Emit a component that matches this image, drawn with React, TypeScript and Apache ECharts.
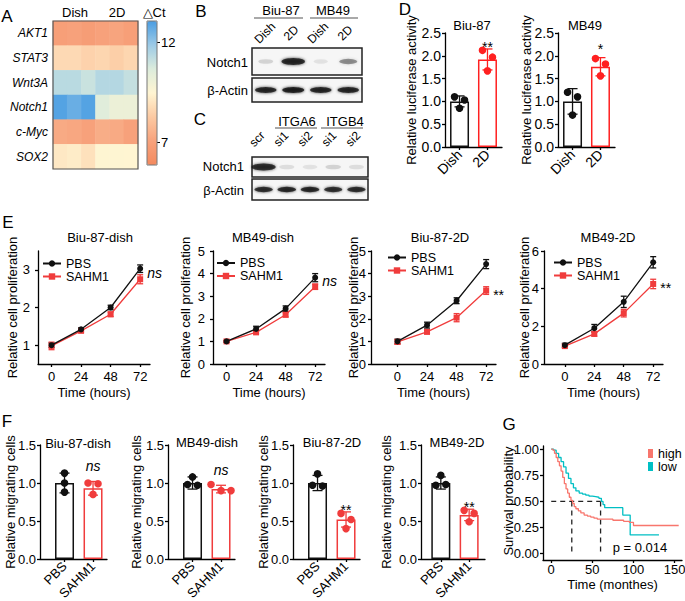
import { useEffect, useRef } from "react";
import * as echarts from "echarts";

const FONT = "'Liberation Sans', Arial, Helvetica, sans-serif";
const INK = "#111111";
const RED = "#f03c3c";
const RED_D = "#ff2020";
const KM_HIGH = "#f8766d";
const KM_LOW = "#00bfc4";

// ---------- A: heatmap (ΔCt) ----------
const heatGenes = ["AKT1", "STAT3", "Wnt3A", "Notch1", "c-Myc", "SOX2"];
const heatSamples = ["Dish 1", "Dish 2", "Dish 3", "2D 1", "2D 2", "2D 3"];
const heatAKT1 = [6.9, 7.0, 6.8, 7.0, 7.1, 6.9];
const heatSTAT3 = [8.7, 8.7, 8.5, 8.6, 8.4, 8.6];
const heatWnt3A = [11.3, 11.3, 11.0, 11.4, 11.4, 11.1];
const heatNotch1 = [12.9, 12.6, 12.9, 10.5, 10.1, 10.1];
const heatCMyc = [7.3, 7.2, 7.0, 7.4, 7.3, 7.0];
const heatSOX2 = [9.1, 9.2, 8.9, 9.5, 9.5, 9.45];
const heatRows = [heatAKT1, heatSTAT3, heatWnt3A, heatNotch1, heatCMyc, heatSOX2];
const colorbarTicks = [7, 12];
const colorbarMin = 5.85;
const colorbarMax = 13.05;
const heatColors = ["#f4895e", "#f7a27c", "#fcc9a2", "#fff5d2", "#dcecdc", "#9ccae6", "#4a9de2"];

// ---------- B / C: western blots (relative band intensity) ----------
const blotBLanes = ["Dish", "2D", "Dish", "2D"];
const blotBNotch1 = [0.16, 0.95, 0.1, 0.45];
const blotBActin = [0.95, 1.0, 0.95, 0.95];
const blotCLanes = ["scr", "si1", "si2", "si1", "si2"];
const blotCNotch1 = [0.92, 0.12, 0.1, 0.16, 0.12];
const blotCActin = [0.92, 0.95, 0.95, 0.9, 0.92];

// ---------- D: luciferase ----------
const dCats = ["Dish", "2D"];
const dBiuMean = [1.0, 1.92];
const dBiuSD = [0.12, 0.23];
const dBiuDishDots = [1.1, 1.03, 0.85];
const dBiu2DDots = [2.12, 1.97, 1.67];
const dBiuSig = ["", "**"];
const dMbMean = [1.0, 1.76];
const dMbSD = [0.28, 0.2];
const dMbDishDots = [1.2, 1.1, 0.7];
const dMb2DDots = [1.94, 1.82, 1.56];
const dMbSig = ["", "*"];

// ---------- E: proliferation ----------
const eTimes = [0, 24, 48, 72];
const eBiuDishPBS = [1.0, 1.42, 2.0, 3.03];
const eBiuDishPBSsd = [0.06, 0.04, 0.06, 0.1];
const eBiuDishSAHM1 = [0.98, 1.38, 1.82, 2.75];
const eBiuDishSAHM1sd = [0.1, 0.04, 0.06, 0.12];
const eMbDishPBS = [1.0, 1.55, 2.45, 3.82];
const eMbDishPBSsd = [0.04, 0.12, 0.12, 0.18];
const eMbDishSAHM1 = [1.0, 1.4, 2.18, 3.42];
const eMbDishSAHM1sd = [0.03, 0.06, 0.1, 0.12];
const eBiu2DPBS = [1.0, 1.72, 2.8, 4.42];
const eBiu2DPBSsd = [0.1, 0.13, 0.13, 0.2];
const eBiu2DSAHM1 = [0.98, 1.42, 2.05, 3.25];
const eBiu2DSAHM1sd = [0.1, 0.07, 0.18, 0.17];
const eMb2DPBS = [1.0, 1.9, 3.3, 5.4];
const eMb2DPBSsd = [0.1, 0.2, 0.3, 0.3];
const eMb2DSAHM1 = [0.95, 1.6, 2.7, 4.25];
const eMb2DSAHM1sd = [0.08, 0.12, 0.2, 0.25];
const eSig = ["ns", "ns", "**", "**"];

// ---------- F: migration ----------
const fCats = ["PBS", "SAHM1"];
const fBiuDishMean = [1.0, 0.93];
const fBiuDishSD = [0.13, 0.09];
const fBiuDishPBSDots = [1.13, 1.0, 0.88];
const fBiuDishSAHM1Dots = [1.0, 0.99, 0.85];
const fMbDishMean = [1.0, 0.92];
const fMbDishSD = [0.08, 0.05];
const fMbDishPBSDots = [1.08, 0.98, 0.97];
const fMbDishSAHM1Dots = [0.98, 0.9, 0.9];
const fBiu2DMean = [1.0, 0.52];
const fBiu2DSD = [0.1, 0.1];
const fBiu2DPBSDots = [1.12, 0.97, 0.96];
const fBiu2DSAHM1Dots = [0.6, 0.52, 0.4];
const fMb2DMean = [1.0, 0.58];
const fMb2DSD = [0.08, 0.075];
const fMb2DPBSDots = [1.1, 0.97, 0.98];
const fMb2DSAHM1Dots = [0.64, 0.6, 0.49];
const fSig = [["", "ns"], ["", "ns"], ["", "**"], ["", "**"]];

// ---------- G: Kaplan-Meier ----------
const kmHighTime = [0, 2, 4, 6, 8, 10, 12, 14, 16, 18, 20, 22, 24, 26, 28, 30, 33, 36, 40, 44, 48, 52, 56, 60, 75, 88, 95, 100, 155];
const kmHighSurv = [1.0, 0.99, 0.96, 0.92, 0.88, 0.84, 0.79, 0.73, 0.67, 0.62, 0.58, 0.54, 0.51, 0.48, 0.45, 0.43, 0.41, 0.39, 0.37, 0.36, 0.35, 0.34, 0.33, 0.33, 0.32, 0.31, 0.3, 0.27, 0.27];
const kmLowTime = [0, 3, 6, 9, 12, 15, 18, 21, 24, 27, 30, 34, 38, 42, 46, 50, 54, 58, 61, 63, 65, 87, 96, 131];
const kmLowSurv = [1.0, 0.99, 0.96, 0.92, 0.88, 0.83, 0.77, 0.72, 0.67, 0.63, 0.6, 0.58, 0.57, 0.56, 0.55, 0.545, 0.54, 0.53, 0.5, 0.47, 0.44, 0.37, 0.18, 0.18];
const kmMedianHigh = 25;
const kmMedianLow = 60;
const kmXTicks = [0, 50, 100, 150];
const kmYTicks = [0, 0.25, 0.5, 0.75, 1];
const kmP = "p = 0.014";

const isObj = (v: any) => v && typeof v === "object" && !Array.isArray(v);
function merge(a: any, b: any): any {
  const out: any = { ...a };
  for (const k of Object.keys(b)) out[k] = isObj(a[k]) && isObj(b[k]) ? merge(a[k], b[k]) : b[k];
  return out;
}

const axisBase = () => ({
  nameLocation: "middle",
  nameMoveOverlap: false,
  nameTextStyle: { color: "#000", fontFamily: FONT, fontSize: 13 },
  axisLine: { show: true, onZero: false, lineStyle: { color: "#000", width: 1.3 } },
  axisTick: { show: true, length: 3, lineStyle: { color: "#000", width: 1.3 } },
  axisLabel: { show: true, color: "#000", fontFamily: FONT, fontSize: 13, margin: 5, hideOverlap: false, showMinLabel: true, showMaxLabel: true },
  splitLine: { show: false },
});

function buildOption() {
  const grid: any[] = [];
  const xAxis: any[] = [];
  const yAxis: any[] = [];
  const series: any[] = [];
  const graphic: any[] = [];
  const legend: any[] = [];
  const visualMap: any[] = [];

  const text = (t: string, x: number, y: number, o: any = {}) => {
    const align = o.align || "center";
    const valign = o.valign || "middle";
    graphic.push({
      type: "text", x, y, rotation: o.rotation || 0, z: 100, silent: true,
      style: {
        text: t, fill: o.fill || "#000", fontFamily: FONT, fontSize: o.size || 13,
        fontStyle: o.italic ? "italic" : "normal",
        align, verticalAlign: valign, textAlign: align, textVerticalAlign: valign,
      },
    });
  };
  const hline = (x1: number, x2: number, y: number) =>
    graphic.push({ type: "line", z: 100, silent: true, shape: { x1, y1: y, x2, y2: y }, style: { stroke: "#555", lineWidth: 1.2 } });
  const addGrid = (left: number, top: number, width: number, height: number, extra: any = {}) => {
    grid.push({ left, top, width, height, containLabel: false, outerBoundsMode: "none", ...extra });
    return grid.length - 1;
  };

  const errSeries = (gi: number, xs: number[], means: number[], sds: number[], colors: string[], cap: number, sigs?: string[]) => ({
    type: "custom", xAxisIndex: gi, yAxisIndex: gi, z: 4, silent: true,
    data: xs.map((x, i) => [x, means[i], sds[i]]),
    encode: { x: 0, y: 1 },
    renderItem: (params: any, api: any) => {
      const i = params.dataIndex;
      const x = api.value(0), m = api.value(1), s = api.value(2);
      const t = api.coord([x, m + s]);
      const b = api.coord([x, m - s]);
      const st = { stroke: colors[i % colors.length], lineWidth: 1.3 };
      const ch: any[] = [
        { type: "line", shape: { x1: t[0], y1: t[1], x2: b[0], y2: b[1] }, style: st },
        { type: "line", shape: { x1: t[0] - cap, y1: t[1], x2: t[0] + cap, y2: t[1] }, style: st },
        { type: "line", shape: { x1: b[0] - cap, y1: b[1], x2: b[0] + cap, y2: b[1] }, style: st },
      ];
      const sig = sigs ? sigs[i] : "";
      if (sig) {
        const dy = sig === "ns" ? -8 : sig === "*" ? -2 : 5;
        ch.push({
          type: "text", x: t[0], y: t[1] + dy,
          style: { text: sig, fill: "#000", fontFamily: FONT, fontSize: 14, fontStyle: sig === "ns" ? "italic" : "normal", align: "center", verticalAlign: "bottom" },
        });
      }
      return { type: "group", children: ch };
    },
  });

  const dotsSeries = (gi: number, xIdx: number, values: number[], color: string) => ({
    type: "custom", xAxisIndex: gi, yAxisIndex: gi, z: 5, silent: true,
    data: values.map((v) => [xIdx, v]),
    encode: { x: 0, y: 1 },
    renderItem: (params: any, api: any) => {
      const i = params.dataIndex;
      const pts = values.map((v) => api.coord([xIdx, v]));
      const near = values.map((_, j) => j).filter((j) => Math.abs(pts[j][1] - pts[i][1]) < 7);
      const rank = near.indexOf(i);
      const dx = near.length > 1 ? (rank - (near.length - 1) / 2) * 10 : 0;
      return { type: "circle", shape: { cx: pts[i][0] + dx, cy: pts[i][1], r: 3.8 }, style: { fill: color } };
    },
  });

  // ---------- bar panels (D, F) ----------
  const barPanel = (c: any) => {
    const gi = addGrid(c.left, c.top, c.width, c.height);
    const idx = c.cats.map((_: any, i: number) => i);
    xAxis.push(merge(axisBase(), {
      gridIndex: gi, type: "value", min: c.xMin, max: c.xMax,
      axisTick: { customValues: idx },
      axisLabel: { customValues: idx, formatter: (v: number) => c.cats[Math.round(v)] ?? "", rotate: 45, margin: 5, fontSize: c.labelSize },
    }));
    yAxis.push(merge(axisBase(), {
      gridIndex: gi, type: "value", min: 0, max: c.yMax, interval: c.yInterval,
      name: c.yName, nameGap: c.nameGap,
      axisLabel: { formatter: (v: number) => v.toFixed(1), fontSize: c.labelSize, margin: 4 },
    }));
    series.push({
      type: "bar", xAxisIndex: gi, yAxisIndex: gi, barWidth: 19, z: 2, silent: true,
      data: c.means.map((m: number, i: number) => ({
        value: [i, m],
        itemStyle: { color: "#ffffff", borderColor: c.colors[i], borderWidth: 1.5 },
      })),
    });
    series.push(errSeries(gi, idx, c.means, c.sds, c.colors, 5, c.sigs));
    c.dots.forEach((vals: number[], i: number) => series.push(dotsSeries(gi, i, vals, c.colors[i])));
    text(c.title, c.titleX, c.titleY);
  };

  // ---------- line panels (E) ----------
  const linePanel = (c: any) => {
    const gi = addGrid(c.left, 251, c.width, 113);
    xAxis.push(merge(axisBase(), {
      gridIndex: gi, type: "value", min: c.xMin, max: 80,
      name: "Time (hours)", nameGap: 22,
      axisTick: { customValues: eTimes },
      axisLabel: { customValues: eTimes, margin: 6 },
    }));
    const yExtra: any = { gridIndex: gi, type: "value", min: c.yMin, max: c.yMax, name: "Relative cell proliferation", nameGap: c.nameGap, axisLabel: { margin: c.labelMargin } };
    if (c.yTicks) {
      yExtra.axisTick = { customValues: c.yTicks };
      yExtra.axisLabel.customValues = c.yTicks;
    } else {
      yExtra.interval = c.yInterval;
    }
    yAxis.push(merge(axisBase(), yExtra));
    const last = eTimes.length - 1;
    series.push({
      type: "line", name: "PBS", xAxisIndex: gi, yAxisIndex: gi, z: 6, silent: true,
      data: eTimes.map((t, i) => [t, c.pbs[i]]),
      symbol: "circle", symbolSize: 6, showAllSymbol: true,
      lineStyle: { color: INK, width: 1.3 }, itemStyle: { color: INK },
    });
    series.push({
      type: "line", name: "SAHM1", xAxisIndex: gi, yAxisIndex: gi, z: 5, silent: true,
      data: eTimes.map((t, i) => i === last
        ? {
          value: [t, c.sahm[i]],
          label: {
            show: true, position: "right", distance: 4, formatter: c.sig,
            offset: [0, c.sig === "ns" ? -6 : 4],
            color: "#000", fontFamily: FONT, fontSize: 14, fontStyle: c.sig === "ns" ? "italic" : "normal",
          },
        }
        : [t, c.sahm[i]]),
      symbol: "rect", symbolSize: 6, showAllSymbol: true,
      lineStyle: { color: RED, width: 1.3 }, itemStyle: { color: RED },
    });
    series.push(errSeries(gi, eTimes, c.pbs, c.pbsSd, [INK], 3));
    series.push(errSeries(gi, eTimes, c.sahm, c.sahmSd, [RED], 3));
    legend.push({
      left: c.legendLeft, top: c.legendTop, orient: "vertical", padding: 0, itemGap: 0,
      itemWidth: 18, itemHeight: 8, selectedMode: false,
      data: ["PBS", "SAHM1"],
      textStyle: { color: "#000", fontFamily: FONT, fontSize: 12.5, lineHeight: 12 },
    });
    text(c.title, c.titleX, 237);
  };

  // ---------- A ----------
  const hg = addGrid(53, 21, 85, 148);
  xAxis.push({ gridIndex: hg, type: "category", data: heatSamples, show: false });
  yAxis.push({
    gridIndex: hg, type: "category", data: heatGenes, inverse: true,
    axisLine: { show: false }, axisTick: { show: false }, splitLine: { show: false },
    axisLabel: { color: "#000", fontFamily: FONT, fontSize: 12, fontStyle: "italic", margin: 5 },
  });
  const heatData: number[][] = [];
  heatRows.forEach((row, r) => row.forEach((v, cIdx) => heatData.push([cIdx, r, v])));
  series.push({ type: "heatmap", xAxisIndex: hg, yAxisIndex: hg, data: heatData, silent: true, itemStyle: { borderWidth: 0 } });
  const heatSeriesIndex = series.length - 1;
  visualMap.push({
    type: "continuous", seriesIndex: heatSeriesIndex, dimension: 2,
    min: colorbarMin, max: colorbarMax, calculable: false, hoverLink: false,
    orient: "vertical", left: 147, top: 21, itemWidth: 10, itemHeight: 144, padding: 0,
    inRange: { color: heatColors },
  });
  const cbg = addGrid(147, 21, 10, 144);
  xAxis.push({ gridIndex: cbg, type: "value", show: false, min: 0, max: 1 });
  yAxis.push(merge(axisBase(), {
    gridIndex: cbg, type: "value", position: "right", min: colorbarMin, max: colorbarMax,
    axisLine: { show: false },
    axisTick: { customValues: colorbarTicks, length: 3, lineStyle: { width: 1 } },
    axisLabel: { customValues: colorbarTicks, margin: 4 },
  }));
  graphic.push({ type: "rect", z: 100, silent: true, shape: { x: 53, y: 21, width: 85, height: 148 }, style: { fill: "none", stroke: "#555", lineWidth: 1.2 } });
  graphic.push({ type: "rect", z: 100, silent: true, shape: { x: 147, y: 21, width: 10, height: 144 }, style: { fill: "none", stroke: "#777", lineWidth: 1 } });
  text("Dish", 75, 12);
  text("2D", 117, 12);
  text("△Ct", 154, 12);
  text("A", 7, 16, { size: 17 });

  // ---------- B / C blots ----------
  const blot = (left: number, top: number, width: number, height: number, intens: number[], bw: number, bh: number) => {
    const gi = addGrid(left, top, width, height, { show: true, backgroundColor: "#f6f6f6", borderColor: "#222", borderWidth: 1.5 });
    xAxis.push({ gridIndex: gi, type: "value", show: false, min: -0.5, max: intens.length - 0.5 });
    yAxis.push({ gridIndex: gi, type: "value", show: false, min: 0, max: 1 });
    series.push({
      type: "scatter", xAxisIndex: gi, yAxisIndex: gi, silent: true, z: 3,
      data: intens.map((a, i) => ({
        value: [i, 0.5],
        symbol: "circle",
        symbolSize: [bw * (0.55 + 0.45 * a), bh * (0.6 + 0.4 * a)],
        itemStyle: { color: `rgba(15,15,15,${a})`, shadowBlur: 3, shadowColor: `rgba(15,15,15,${a})` },
      })),
    });
  };
  blot(252, 48, 110, 27, blotBNotch1, 24, 7);
  blot(252, 78, 110, 24, blotBActin, 22, 6);
  blot(252, 157, 116, 20, blotCNotch1, 25, 7);
  blot(252, 179, 116, 21, blotCActin, 19, 5.5);
  text("B", 201, 11, { size: 17 });
  text("C", 200, 119, { size: 17 });
  text("Biu-87", 281, 10);
  hline(254, 303, 18);
  text("MB49", 333, 10);
  hline(310, 358, 18);
  const bLaneX = [265, 291, 318, 345];
  blotBLanes.forEach((l, i) => text(l, bLaneX[i], 33, { size: 12, rotation: Math.PI / 4 }));
  text("Notch1", 248, 62, { align: "right" });
  text("β-Actin", 248, 90, { align: "right" });
  text("ITGA6", 297, 121);
  hline(275, 317, 128);
  text("ITGB4", 345, 121);
  hline(321, 363, 128);
  const cLaneX = [257, 281, 305, 329, 353];
  blotCLanes.forEach((l, i) => text(l, cLaneX[i], 139, { size: 12, rotation: Math.PI / 4 }));
  text("Notch1", 244, 166, { align: "right" });
  text("β-Actin", 244, 190, { align: "right" });

  // ---------- D ----------
  text("D", 405, 9, { size: 17 });
  barPanel({
    left: 445, top: 33, width: 57, height: 114, xMin: -0.52, xMax: 1.52, yMax: 2.5, yInterval: 0.5,
    cats: dCats, means: dBiuMean, sds: dBiuSD, dots: [dBiuDishDots, dBiu2DDots], sigs: dBiuSig,
    colors: [INK, RED_D], yName: "Relative luciferase activity", nameGap: 27, labelSize: 14,
    title: "Biu-87", titleX: 472, titleY: 25,
  });
  barPanel({
    left: 558, top: 33, width: 57, height: 114, xMin: -0.52, xMax: 1.52, yMax: 2.5, yInterval: 0.5,
    cats: dCats, means: dMbMean, sds: dMbSD, dots: [dMbDishDots, dMb2DDots], sigs: dMbSig,
    colors: [INK, RED_D], yName: "Relative luciferase activity", nameGap: 25, labelSize: 14,
    title: "MB49", titleX: 585, titleY: 25,
  });

  // ---------- E ----------
  text("E", 8, 222, { size: 17 });
  linePanel({
    left: 38, width: 112, xMin: -11, yMin: 0.5, yMax: 3.5, yTicks: [1, 2, 3], nameGap: 19, labelMargin: 8,
    pbs: eBiuDishPBS, pbsSd: eBiuDishPBSsd, sahm: eBiuDishSAHM1, sahmSd: eBiuDishSAHM1sd, sig: eSig[0],
    legendLeft: 42, legendTop: 257, title: "Biu-87-dish", titleX: 100,
  });
  linePanel({
    left: 213, width: 112, xMin: -11, yMin: 0, yMax: 5, yInterval: 1, nameGap: 21, labelMargin: 8,
    pbs: eMbDishPBS, pbsSd: eMbDishPBSsd, sahm: eMbDishSAHM1, sahmSd: eMbDishSAHM1sd, sig: eSig[1],
    legendLeft: 216, legendTop: 256.5, title: "MB49-dish", titleX: 263,
  });
  linePanel({
    left: 371, width: 125, xMin: -21.5, yMin: 0, yMax: 5, yInterval: 1, nameGap: 11, labelMargin: 5,
    pbs: eBiu2DPBS, pbsSd: eBiu2DPBSsd, sahm: eBiu2DSAHM1, sahmSd: eBiu2DSAHM1sd, sig: eSig[2],
    legendLeft: 387, legendTop: 251, title: "Biu-87-2D", titleX: 440,
  });
  linePanel({
    left: 544, width: 119, xMin: -17, yMin: 0, yMax: 6, yInterval: 2, nameGap: 13, labelMargin: 5,
    pbs: eMb2DPBS, pbsSd: eMb2DPBSsd, sahm: eMb2DSAHM1, sahmSd: eMb2DSAHM1sd, sig: eSig[3],
    legendLeft: 553, legendTop: 256, title: "MB49-2D", titleX: 608,
  });

  // ---------- F ----------
  text("F", 7, 421, { size: 17 });
  const fCommon = { top: 445, height: 114, yMax: 1.5, yInterval: 0.5, cats: fCats, colors: [INK, RED], yName: "Relative migrating cells", labelSize: 13 };
  barPanel({ ...fCommon, left: 40, width: 67, xMin: -0.86, xMax: 1.49, means: fBiuDishMean, sds: fBiuDishSD, dots: [fBiuDishPBSDots, fBiuDishSAHM1Dots], sigs: fSig[0], nameGap: 23, title: "Biu-87-dish", titleX: 78, titleY: 443 });
  barPanel({ ...fCommon, left: 168, width: 67, xMin: -0.86, xMax: 1.49, means: fMbDishMean, sds: fMbDishSD, dots: [fMbDishPBSDots, fMbDishSAHM1Dots], sigs: fSig[1], nameGap: 25, title: "MB49-dish", titleX: 207, titleY: 442 });
  barPanel({ ...fCommon, left: 293, width: 67, xMin: -0.86, xMax: 1.49, means: fBiu2DMean, sds: fBiu2DSD, dots: [fBiu2DPBSDots, fBiu2DSAHM1Dots], sigs: fSig[2], nameGap: 23, title: "Biu-87-2D", titleX: 332, titleY: 442 });
  barPanel({ ...fCommon, left: 421, width: 64, xMin: -0.7, xMax: 1.56, means: fMb2DMean, sds: fMb2DSD, dots: [fMb2DPBSDots, fMb2DSAHM1Dots], sigs: fSig[3], nameGap: 28, title: "MB49-2D", titleX: 457, titleY: 442 });

  // ---------- G ----------
  text("G", 509, 424, { size: 17 });
  const gg = addGrid(543, 446, 139, 114);
  xAxis.push(merge(axisBase(), {
    gridIndex: gg, type: "value", min: -10, max: 159, name: "Time (monthes)", nameGap: 18,
    axisTick: { customValues: kmXTicks }, axisLabel: { customValues: kmXTicks, margin: 3 },
  }));
  yAxis.push(merge(axisBase(), {
    gridIndex: gg, type: "value", min: -0.06, max: 1.03,
    axisTick: { customValues: kmYTicks },
    axisLabel: { customValues: kmYTicks, margin: 4, formatter: (v: number) => Number(v).toFixed(2) },
  }));
  const dashStyle = { color: "#222", width: 1.3, type: [5, 4] };
  series.push({ type: "line", xAxisIndex: gg, yAxisIndex: gg, silent: true, symbol: "none", z: 2, lineStyle: dashStyle, data: [[0, 0.5], [kmMedianLow, 0.5]] });
  series.push({ type: "line", xAxisIndex: gg, yAxisIndex: gg, silent: true, symbol: "none", z: 2, lineStyle: dashStyle, data: [[kmMedianHigh, 0.5], [kmMedianHigh, 0]] });
  series.push({ type: "line", xAxisIndex: gg, yAxisIndex: gg, silent: true, symbol: "none", z: 2, lineStyle: dashStyle, data: [[kmMedianLow, 0.5], [kmMedianLow, 0]] });
  series.push({
    type: "line", name: "high", xAxisIndex: gg, yAxisIndex: gg, silent: true, step: "end", symbol: "none", z: 4,
    data: kmHighTime.map((t, i) => [t, kmHighSurv[i]]),
    lineStyle: { color: KM_HIGH, width: 1.3 }, itemStyle: { color: KM_HIGH },
  });
  series.push({
    type: "line", name: "low", xAxisIndex: gg, yAxisIndex: gg, silent: true, step: "end", symbol: "none", z: 3,
    data: kmLowTime.map((t, i) => [t, kmLowSurv[i]]),
    lineStyle: { color: KM_LOW, width: 1.3 }, itemStyle: { color: KM_LOW },
  });
  legend.push({
    left: 648, top: 447, orient: "vertical", padding: 0, itemGap: 0, icon: "rect",
    itemWidth: 5, itemHeight: 9, selectedMode: false, data: ["high", "low"],
    textStyle: { color: "#000", fontFamily: FONT, fontSize: 12.5, lineHeight: 12 },
  });
  text(kmP, 640, 547);
  text("Survival probability", 508, 501, { rotation: Math.PI / 2 });

  return {
    animation: false,
    backgroundColor: "#ffffff",
    textStyle: { fontFamily: FONT },
    tooltip: { show: false },
    grid, xAxis, yAxis, series, graphic, legend, visualMap,
  };
}

export default function App() {
  const ref = useRef<HTMLDivElement>(null);
  useEffect(() => {
    document.body.style.margin = "0";
    const chart = echarts.init(ref.current!, null, { renderer: "svg" });
    chart.setOption(buildOption() as any);
    return () => chart.dispose();
  }, []);
  return <div ref={ref} style={{ width: 685, height: 601 }} />;
}
